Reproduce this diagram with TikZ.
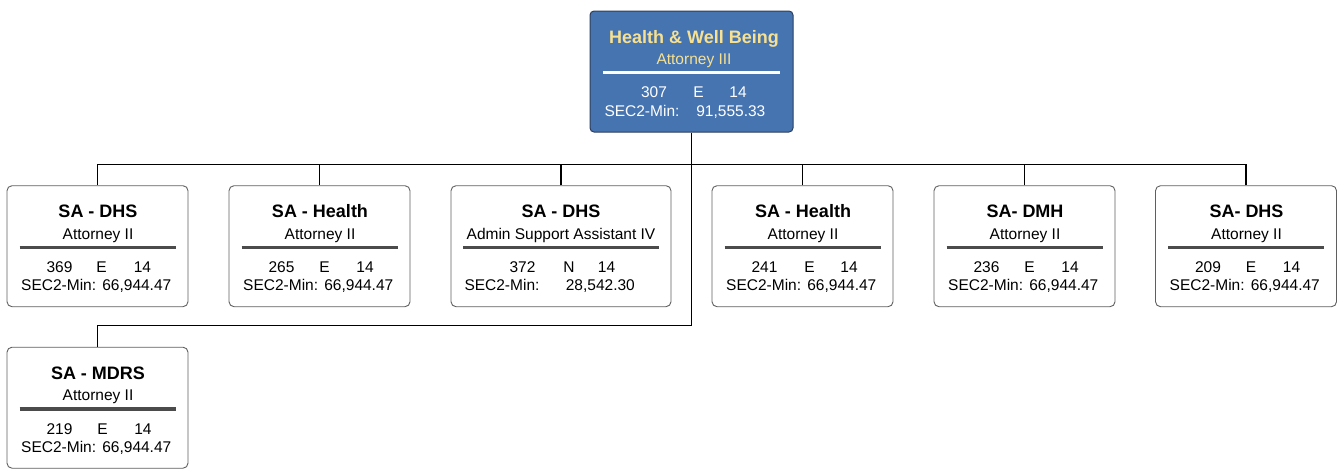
\documentclass[tikz,border=0pt]{standalone}
\usepackage{fontspec}
\setmainfont{Liberation Sans}
\usetikzlibrary{calc}
\definecolor{topfill}{RGB}{70,116,176}
\definecolor{topborder}{RGB}{45,62,92}
\definecolor{ytext}{RGB}{247,225,145}
\definecolor{rulegray}{RGB}{75,75,75}
\definecolor{boxborder}{RGB}{95,95,95}
\tikzset{
 cbox/.style={draw=boxborder, line width=0.9pt, rounded corners=5pt, fill=white, minimum width=181pt, minimum height=121pt, inner sep=0pt},
 tbox/.style={draw=topborder, line width=1pt, rounded corners=4pt, fill=topfill, minimum width=203pt, minimum height=121pt, inner sep=0pt},
 txt/.style={inner sep=0pt, font=\fontsize{15.5}{18}\selectfont},
 ttl/.style={inner sep=0pt, font=\fontsize{18}{21}\selectfont\bfseries},
 conn/.style={draw=black, line width=1.2pt},
 crule/.style={draw=rulegray, line width=3.5pt},
 trule/.style={draw=white, line width=3pt},
}
% #1 name, #2 title, #3 subtitle, #4 x shift, #5 extra style
\newcommand{\boxhead}[5]{%
 \node[ttl,anchor=base,#5] (#1t) at ($(#1.north)+(#4,32.5)$) {#2};
 \node[txt,anchor=base,#5] (#1s) at ($(#1.north)+(#4,54)$) {#3};
}
% #1 name, #2 num, #3 letter, #4 grade, #5 value, #6 dx num, #7 dx letter, #8 dx grade, #9 label left
\newcommand{\boxdata}[9]{%
 \node[txt,anchor=base] (#1n) at ($(#1.north)+(#6,87.3)$) {#2};
 \node[txt,anchor=base] (#1e) at ($(#1.north)+(#7,87.3)$) {#3};
 \node[txt,anchor=base] (#1g) at ($(#1.north)+(#8,87.3)$) {#4};
 \node[txt,anchor=base west] (#1l) at ($(#1.north)+(#9,105.7)$) {SEC2-Min:};
 \node[txt,anchor=base east] (#1v) at ($(#1.north)+(74,105.7)$) {#5};
}
\begin{document}
\begin{tikzpicture}[x=1pt,y=-1pt]
\useasboundingbox (0,0) rectangle (1337,469);
% boxes
\node[tbox] (top) at (691.5,71.5) {};
\node[cbox] (b1) at (97.5,246.2) {};
\node[cbox] (b2) at (319.5,246.2) {};
\node[cbox, minimum width=220pt] (b3) at (561,246.2) {};
\node[cbox] (b4) at (802.5,246.2) {};
\node[cbox] (b5) at (1024.5,246.2) {};
\node[cbox] (b6) at (1246,246.2) {};
\node[cbox] (b7) at (97.5,407.7) {};
% connectors
\foreach \b in {b1,b2,b3,b4,b5,b6}
  \draw[conn] (\b.north) -- ++(0,-20.7) -| (top.south);
\draw[conn] (top.south) |- ($(b7.north)+(0,-21)$) -- (b7.north);
% top box content
\boxhead{top}{Health \& Well Being}{Attorney III}{2.5}{text=ytext}
\draw[trule] ($(top.north)+(-88.5,62.3)$) -- ($(top.north)+(88.5,62.3)$);
\begin{scope}[every node/.append style={text=white}]
\boxdata{top}{307}{E}{14}{91,555.33}{-37.5}{7}{46.5}{-87.2}
\end{scope}
% child boxes
\boxhead{b1}{SA - DHS}{Attorney II}{0.5}{}
\draw[crule] ($(b1.north)+(-78,62.3)$) -- ($(b1.north)+(78,62.3)$);
\boxdata{b1}{369}{E}{14}{66,944.47}{-38}{4}{45}{-76.5}

\boxhead{b2}{SA - Health}{Attorney II}{0.5}{}
\draw[crule] ($(b2.north)+(-78,62.3)$) -- ($(b2.north)+(78,62.3)$);
\boxdata{b2}{265}{E}{14}{66,944.47}{-38}{5}{45.5}{-76.5}

\boxhead{b3}{SA - DHS}{Admin Support Assistant IV}{0}{}
\draw[crule] ($(b3.north)+(-98,62.3)$) -- ($(b3.north)+(98,62.3)$);
\boxdata{b3}{372}{N}{14}{28,542.30}{-38.5}{8}{45.5}{-96.7}

\boxhead{b4}{SA - Health}{Attorney II}{0.5}{}
\draw[crule] ($(b4.north)+(-78,62.3)$) -- ($(b4.north)+(78,62.3)$);
\boxdata{b4}{241}{E}{14}{66,944.47}{-38}{7}{46.5}{-76.5}

\boxhead{b5}{SA- DMH}{Attorney II}{0.5}{}
\draw[crule] ($(b5.north)+(-78,62.3)$) -- ($(b5.north)+(78,62.3)$);
\boxdata{b5}{236}{E}{14}{66,944.47}{-38}{5}{45.5}{-76.5}

\boxhead{b6}{SA- DHS}{Attorney II}{0.5}{}
\draw[crule] ($(b6.north)+(-78,62.3)$) -- ($(b6.north)+(78,62.3)$);
\boxdata{b6}{209}{E}{14}{66,944.47}{-38}{5}{45.5}{-76.5}

\boxhead{b7}{SA - MDRS}{Attorney II}{0.5}{}
\draw[crule] ($(b7.north)+(-78,62.3)$) -- ($(b7.north)+(78,62.3)$);
\boxdata{b7}{219}{E}{14}{66,944.47}{-38}{5}{45.5}{-76.5}
\end{tikzpicture}
\end{document}
